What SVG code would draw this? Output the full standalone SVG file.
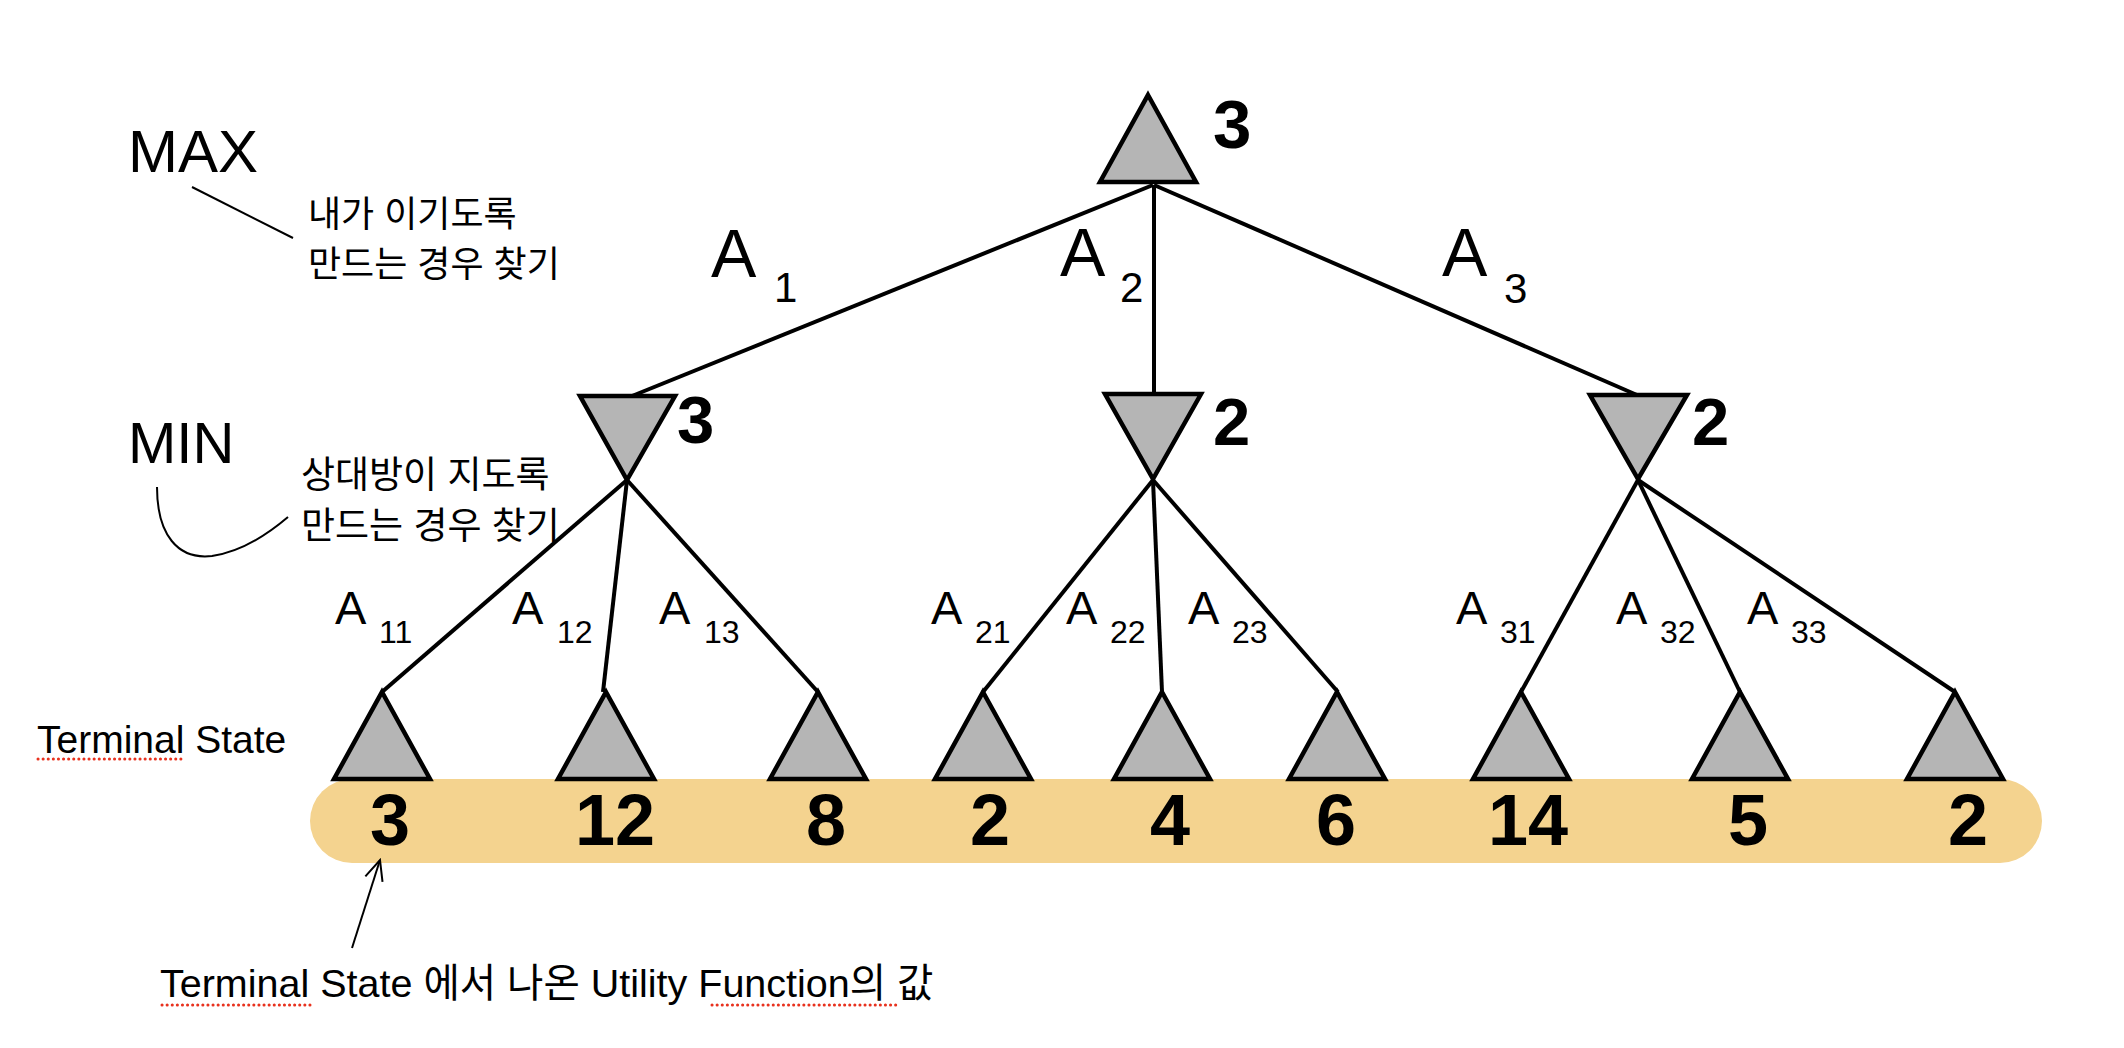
<svg xmlns="http://www.w3.org/2000/svg" width="2124" height="1048" viewBox="0 0 2124 1048">
<style>
.tri{fill:#b5b5b5;stroke:#000;stroke-width:4.5;stroke-linejoin:miter}
.edge{stroke:#000;stroke-width:4;fill:none}
.val{font-family:"Liberation Sans",Arial,sans-serif;font-weight:bold;fill:#000}
.lab{font-family:"Liberation Sans",Arial,"Noto Sans CJK KR",sans-serif;fill:#000}
.thin{stroke:#000;stroke-width:2;fill:none}
.spell{stroke:#e8321e;stroke-width:3;stroke-dasharray:0.1 5;stroke-linecap:round;fill:none}
</style>
<defs>
<marker id="open" viewBox="0 0 24 24" refX="22" refY="12" markerWidth="24" markerHeight="24" markerUnits="userSpaceOnUse" orient="auto">
<path d="M2,3 L22,12 L2,21" fill="none" stroke="#000" stroke-width="2"/>
</marker>
</defs>
<rect width="2124" height="1048" fill="#fff"/>

<g id="terminal-band">
<rect x="310" y="779" width="1732" height="84" rx="42" ry="42" fill="#f4d38f"/>
</g>

<g id="connectors">
<line class="edge" x1="1153" y1="185" x2="632" y2="396"/>
<line class="edge" x1="1154" y1="185" x2="1154" y2="394"/>
<line class="edge" x1="1154" y1="185" x2="1637" y2="395"/>
<line class="edge" x1="627" y1="480" x2="382" y2="692"/>
<line class="edge" x1="627" y1="480" x2="603" y2="692"/>
<line class="edge" x1="627" y1="480" x2="818" y2="692"/>
<line class="edge" x1="1153" y1="480" x2="983" y2="692"/>
<line class="edge" x1="1153" y1="480" x2="1162" y2="692"/>
<line class="edge" x1="1153" y1="480" x2="1338" y2="692"/>
<line class="edge" x1="1638" y1="480" x2="1521" y2="692"/>
<line class="edge" x1="1638" y1="480" x2="1740" y2="692"/>
<line class="edge" x1="1638" y1="480" x2="1955" y2="692"/>
</g>

<g id="edge-labels" class="lab">
<text x="711" y="277" font-size="68">A</text><text x="774" y="302" font-size="42">1</text>
<text x="1060" y="276" font-size="68">A</text><text x="1120" y="302" font-size="42">2</text>
<text x="1442" y="276" font-size="68">A</text><text x="1504" y="303" font-size="42">3</text>
<text x="335" y="624" font-size="47">A</text><text x="379" y="643" font-size="32">11</text>
<text x="512" y="624" font-size="47">A</text><text x="557" y="643" font-size="32">12</text>
<text x="659" y="624" font-size="47">A</text><text x="704" y="643" font-size="32">13</text>
<text x="931" y="624" font-size="47">A</text><text x="975" y="643" font-size="32">21</text>
<text x="1066" y="624" font-size="47">A</text><text x="1110" y="643" font-size="32">22</text>
<text x="1188" y="624" font-size="47">A</text><text x="1232" y="643" font-size="32">23</text>
<text x="1456" y="624" font-size="47">A</text><text x="1500" y="643" font-size="32">31</text>
<text x="1616" y="624" font-size="47">A</text><text x="1660" y="643" font-size="32">32</text>
<text x="1747" y="624" font-size="47">A</text><text x="1791" y="643" font-size="32">33</text>
</g>

<g id="node-max">
<polygon class="tri" points="1148,95 1196,182 1100,182"/>
<text class="val" x="1213" y="148" font-size="69">3</text>
</g>
<g id="node-min1">
<polygon class="tri" points="580,396 675,396 627,480"/>
<text class="val" x="677" y="443" font-size="67">3</text>
</g>
<g id="node-min2">
<polygon class="tri" points="1105,394 1201,394 1153,479"/>
<text class="val" x="1213" y="445" font-size="67">2</text>
</g>
<g id="node-min3">
<polygon class="tri" points="1590,395 1687,395 1638,479"/>
<text class="val" x="1692" y="445" font-size="67">2</text>
</g>

<g id="node-leaf1"><polygon class="tri" points="382,692 430,779 334,779"/><text class="val" x="390" y="845" font-size="72" text-anchor="middle">3</text></g>
<g id="node-leaf2"><polygon class="tri" points="606,692 654,779 558,779"/><text class="val" x="615" y="845" font-size="72" text-anchor="middle">12</text></g>
<g id="node-leaf3"><polygon class="tri" points="818,692 866,779 770,779"/><text class="val" x="826" y="845" font-size="72" text-anchor="middle">8</text></g>
<g id="node-leaf4"><polygon class="tri" points="983,692 1031,779 935,779"/><text class="val" x="990" y="845" font-size="72" text-anchor="middle">2</text></g>
<g id="node-leaf5"><polygon class="tri" points="1162,692 1210,779 1114,779"/><text class="val" x="1170" y="845" font-size="72" text-anchor="middle">4</text></g>
<g id="node-leaf6"><polygon class="tri" points="1337,692 1385,779 1289,779"/><text class="val" x="1336" y="845" font-size="72" text-anchor="middle">6</text></g>
<g id="node-leaf7"><polygon class="tri" points="1521,692 1569,779 1473,779"/><text class="val" x="1528" y="845" font-size="72" text-anchor="middle">14</text></g>
<g id="node-leaf8"><polygon class="tri" points="1740,692 1788,779 1692,779"/><text class="val" x="1748" y="845" font-size="72" text-anchor="middle">5</text></g>
<g id="node-leaf9"><polygon class="tri" points="1955,692 2003,779 1907,779"/><text class="val" x="1968" y="845" font-size="72" text-anchor="middle">2</text></g>

<g id="annotation-max">
<text class="lab" x="128" y="172" font-size="60">MAX</text>
<line class="thin" x1="192" y1="187" x2="293" y2="238"/>
<text class="lab" x="308" y="227" font-size="36" font-family="'Liberation Sans','Noto Sans CJK KR',sans-serif">내가 이기도록</text>
<text class="lab" x="308" y="277" font-size="36" font-family="'Liberation Sans','Noto Sans CJK KR',sans-serif">만드는 경우 찾기</text>
</g>

<g id="annotation-min">
<text class="lab" x="128" y="463" font-size="58">MIN</text>
<path class="thin" d="M157,487 C157,535 178,560 212,556 C240,552 268,534 288,517"/>
<text class="lab" x="301" y="488" font-size="37" font-family="'Liberation Sans','Noto Sans CJK KR',sans-serif">상대방이 지도록</text>
<text class="lab" x="301" y="539" font-size="37" font-family="'Liberation Sans','Noto Sans CJK KR',sans-serif">만드는 경우 찾기</text>
</g>

<g id="annotation-terminal">
<text class="lab" x="37" y="753" font-size="39">Terminal State</text>
<line class="spell" x1="38" y1="759" x2="184" y2="759"/>
</g>

<g id="annotation-utility">
<line class="thin" x1="352" y1="948" x2="380" y2="860" marker-end="url(#open)"/>
<text class="lab" x="160" y="997" font-size="39.5" font-family="'Liberation Sans','Noto Sans CJK KR',sans-serif">Terminal State 에서 나온 Utility Function의 값</text>
<line class="spell" x1="162" y1="1005" x2="314" y2="1005"/>
<line class="spell" x1="712" y1="1005" x2="900" y2="1005"/>
</g>
</svg>
